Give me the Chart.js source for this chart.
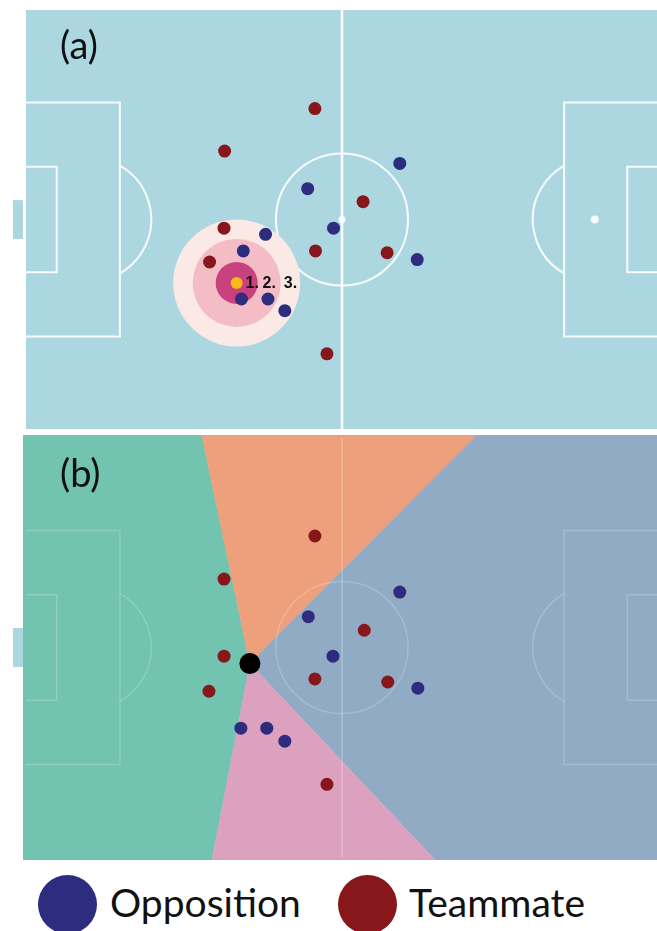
<!DOCTYPE html>
<html>
<head>
<meta charset="utf-8">
<script src="https://cdn.jsdelivr.net/npm/chart.js@4.4.1/dist/chart.umd.min.js"></script>
<style>
  html, body { margin: 0; padding: 0; background: #ffffff; }
  body { width: 657px; height: 931px; overflow: hidden; position: relative; }
  canvas { position: absolute; left: 0; }
  #chartA { top: 0px; }
  #chartB { top: 428px; }
  .txt { position: absolute; font-family: Lato, "Open Sans", sans-serif; color: #111; white-space: nowrap; }
  .panel { font-size: 38px; line-height: 38px; left: 60px; }
  .legtxt { font-size: 39px; line-height: 39px; top: 883px; }
  .legdot { position: absolute; width: 59px; height: 59px; border-radius: 50%; top: 874.5px; }
</style>
</head>
<body>
<canvas id="chartA" width="680" height="432"></canvas>
<canvas id="chartB" width="680" height="436"></canvas>
<div class="txt panel" id="labelA" style="top:25px"></div>
<div class="txt panel" id="labelB" style="top:453px"></div>
<div class="legdot" id="legDot0" style="left:38px"></div>
<div class="txt legtxt" id="legTxt0" style="left:110px"></div>
<div class="legdot" id="legDot1" style="left:338px"></div>
<div class="txt legtxt" id="legTxt1" style="left:409px"></div>

<script>
// ---------------- DATA (pitch coordinates in metres, x 0-105 from left goal line, y 0-68 from top touchline) ----------------
const panelLabels = ['(a)', '(b)'];
const seriesNames = ['Opposition', 'Teammate'];

// Panel (a)
const oppositionA = [[46.8, 29.0], [62.1, 24.9], [51.1, 35.4], [39.8, 36.4], [36.1, 39.1],
                     [35.8, 46.9], [40.2, 46.9], [43.0, 48.8], [65.0, 40.5]];
const teammatesA  = [[48.0, 16.0], [33.0, 22.9], [56.0, 31.1], [32.9, 35.4], [30.5, 40.9],
                     [48.1, 39.1], [60.0, 39.4], [50.0, 55.8]];
const ballA       = [[35.0, 44.3]];
const ringLabels  = ['1.', '2.', '3.'];

// Panel (b)
const oppositionB = [[46.9, 29.0], [62.1, 25.0], [51.0, 35.4], [65.1, 40.6],
                     [35.7, 47.1], [40.0, 47.1], [43.0, 49.2]];
const teammatesB  = [[48.0, 15.9], [32.9, 22.9], [56.2, 31.2], [32.9, 35.4], [30.4, 41.1],
                     [48.0, 39.1], [60.1, 39.6], [50.0, 56.2]];
const playerB     = [[37.2, 36.6]];
// x where region boundaries meet the top and bottom touchlines
const regionTopX    = [29.2, 74.9];
const regionBottomX = [30.9, 68.0];
const regionNames   = ['Left', 'Forward', 'Right', 'Back'];

// ---------------- STYLE / GEOMETRY ----------------
const COL_OPP = '#2e2c7e';
const COL_TEAM = '#87171b';
const COL_BALL = '#f5b918';
const RING_COLS = ['#c9427f', '#f4bdc6', '#fbe9e5'];
const RING_R = [21, 44, 63.5];
const REGION_COLS = ['#72c3b0', '#eda07b', '#91abc4', '#dba1bf'];
const PITCH_BG = '#acd7e0';

const SX = 632 / 105, SY = 419 / 68;   // px per metre
const CW = 680;
const P = { L: 105, W: 68, paD: 15.6, paHW: 19.0, gaD: 5.1, gaHW: 8.55, spot: 10.5,
            arcR: 10.3, ccR: 10.97, goalD: 1.66, goalX0: -0.5, goalHW: 3.15 };

const pts = arr => arr.map(([x, y]) => ({ x, y }));

document.getElementById('labelA').textContent = panelLabels[0];
document.getElementById('labelB').textContent = panelLabels[1];
document.getElementById('legTxt0').textContent = seriesNames[0];
document.getElementById('legTxt1').textContent = seriesNames[1];
document.getElementById('legDot0').style.background = COL_OPP;
document.getElementById('legDot1').style.background = COL_TEAM;

function drawGoal(chart, color) {
  const xs = chart.scales.x, ys = chart.scales.y, ctx = chart.ctx;
  const X = v => xs.getPixelForValue(v), Y = v => ys.getPixelForValue(v);
  const cy = P.W / 2;
  ctx.save();
  ctx.fillStyle = color;
  ctx.fillRect(X(P.goalX0 - P.goalD), Y(cy - P.goalHW), X(P.goalX0) - X(P.goalX0 - P.goalD), Y(cy + P.goalHW) - Y(cy - P.goalHW));
  ctx.restore();
}

function drawPitchLines(chart, stroke, lw, centreLw, spots) {
  const xs = chart.scales.x, ys = chart.scales.y, ctx = chart.ctx;
  const X = v => xs.getPixelForValue(v), Y = v => ys.getPixelForValue(v);
  const k = X(1) - X(0);
  const cy = P.W / 2;
  ctx.save();
  ctx.strokeStyle = stroke;
  ctx.fillStyle = stroke;
  ctx.lineWidth = centreLw;
  ctx.beginPath(); ctx.moveTo(X(P.L / 2), Y(0)); ctx.lineTo(X(P.L / 2), Y(P.W)); ctx.stroke();
  ctx.lineWidth = lw;
  ctx.beginPath(); ctx.arc(X(P.L / 2), Y(cy), P.ccR * k, 0, Math.PI * 2); ctx.stroke();
  if (spots) { ctx.beginPath(); ctx.arc(X(P.L / 2), Y(cy), 3.5, 0, Math.PI * 2); ctx.fill(); }
  const box = (x0, x1, hw) => {
    ctx.beginPath();
    ctx.moveTo(X(x0), Y(cy - hw)); ctx.lineTo(X(x1), Y(cy - hw));
    ctx.lineTo(X(x1), Y(cy + hw)); ctx.lineTo(X(x0), Y(cy + hw));
    ctx.stroke();
  };
  box(0, P.paD, P.paHW); box(0, P.gaD, P.gaHW);
  box(P.L, P.L - P.paD, P.paHW); box(P.L, P.L - P.gaD, P.gaHW);
  const r = P.arcR * k;
  const th = Math.acos((X(P.paD) - X(P.spot)) / r);
  ctx.beginPath(); ctx.arc(X(P.spot), Y(cy), r, -th, th); ctx.stroke();
  ctx.beginPath(); ctx.arc(X(P.L - P.spot), Y(cy), r, Math.PI - th, Math.PI + th); ctx.stroke();
  if (spots) { ctx.beginPath(); ctx.arc(X(P.L - P.spot), Y(cy), 4, 0, Math.PI * 2); ctx.fill(); }
  ctx.restore();
}

const pitchPluginA = {
  id: 'pitchA',
  beforeDatasetsDraw(chart) {
    const a = chart.chartArea, ctx = chart.ctx;
    ctx.save(); ctx.fillStyle = PITCH_BG; ctx.fillRect(a.left, a.top, a.right - a.left, a.bottom - a.top); ctx.restore();
    drawGoal(chart, PITCH_BG);
    drawPitchLines(chart, 'rgba(255,255,255,0.9)', 2, 2.6, true);
  },
  afterDatasetsDraw(chart) {
    const xs = chart.scales.x, ys = chart.scales.y, ctx = chart.ctx;
    const bx = xs.getPixelForValue(ballA[0][0]), by = ys.getPixelForValue(ballA[0][1]);
    const bands = [7, RING_R[0], RING_R[1], RING_R[2]];
    ctx.save();
    ctx.font = 'bold 16px "Liberation Sans Narrow", "Liberation Sans", Arial, sans-serif';
    ctx.fillStyle = '#111111';
    ctx.textAlign = 'center';
    ctx.textBaseline = 'middle';
    ringLabels.forEach((t, i) => {
      const off = (bands[i] + bands[i + 1]) / 2 + (i === 0 ? 1.5 : 0);
      ctx.fillText(t, bx + off, by + 0.5);
    });
    ctx.restore();
  }
};

const pitchPluginB = {
  id: 'pitchB',
  beforeDatasetsDraw(chart) { drawGoal(chart, PITCH_BG); },
  afterDatasetDraw(chart, args) {
    if (chart.data.datasets[args.index].pitchAfter) {
      drawPitchLines(chart, 'rgba(255,255,255,0.2)', 1.5, 2, false);
    }
  }
};

function baseOptions(xmin, xmax, ymin, ymax, pitchTopPx, canvasTop, canvasH) {
  const left = 26 + xmin * SX;
  const right = CW - (26 + xmax * SX);
  const top = (pitchTopPx + ymin * SY) - canvasTop;
  const bottom = canvasH - ((pitchTopPx + ymax * SY) - canvasTop);
  return {
    responsive: false, animation: false, devicePixelRatio: 1, events: [],
    layout: { autoPadding: false, padding: { left, right, top, bottom } },
    plugins: { legend: { display: false }, tooltip: { enabled: false } },
    scales: {
      x: { type: 'linear', min: xmin, max: xmax, display: false },
      y: { type: 'linear', min: ymin, max: ymax, reverse: true, display: false }
    }
  };
}

// ---------------- Chart (a) ----------------
new Chart(document.getElementById('chartA'), {
  type: 'scatter',
  data: {
    datasets: [
      { label: 'Ball', data: pts(ballA), backgroundColor: COL_BALL, borderWidth: 0, pointRadius: 6, order: 0 },
      { label: seriesNames[0], data: pts(oppositionA), backgroundColor: COL_OPP, borderWidth: 0, pointRadius: 6.5, order: 1 },
      { label: seriesNames[1], data: pts(teammatesA), backgroundColor: COL_TEAM, borderWidth: 0, pointRadius: 6.5, order: 1 },
      { label: 'Zone ' + ringLabels[0], data: pts(ballA), backgroundColor: RING_COLS[0], borderWidth: 0, pointRadius: RING_R[0], order: 5 },
      { label: 'Zone ' + ringLabels[1], data: pts(ballA), backgroundColor: RING_COLS[1], borderWidth: 0, pointRadius: RING_R[1], order: 6 },
      { label: 'Zone ' + ringLabels[2], data: pts(ballA), backgroundColor: RING_COLS[2], borderWidth: 0, pointRadius: RING_R[2], order: 7 }
    ]
  },
  options: baseOptions(0, P.L, 0, P.W, 10, 0, 432),
  plugins: [pitchPluginA]
});

// ---------------- Chart (b) ----------------
const e0 = -0.5, ex1 = P.L + 0.5, ey1 = P.W + 0.5;
const apex = playerB[0];
const regionPolys = [
  [[e0, e0], [regionTopX[0], e0], apex, [regionBottomX[0], ey1], [e0, ey1]],
  [[regionTopX[0], e0], [regionTopX[1], e0], apex],
  [[regionTopX[1], e0], [ex1, e0], [ex1, ey1], [regionBottomX[1], ey1], apex],
  [apex, [regionBottomX[1], ey1], [regionBottomX[0], ey1]]
];
const regionDatasets = regionPolys.map((poly, i) => ({
  label: regionNames[i],
  data: pts(poly.concat([poly[0]])),
  showLine: true, fill: 'shape', tension: 0,
  backgroundColor: REGION_COLS[i], borderColor: REGION_COLS[i], borderWidth: 0.5,
  pointRadius: 0, order: 13 - i, pitchAfter: i === 3
}));

new Chart(document.getElementById('chartB'), {
  type: 'scatter',
  data: {
    datasets: [
      { label: 'Player', data: pts(playerB), backgroundColor: '#000000', borderWidth: 0, pointRadius: 10.5, order: 0 },
      { label: seriesNames[0], data: pts(oppositionB), backgroundColor: COL_OPP, borderWidth: 0, pointRadius: 6.5, order: 1 },
      { label: seriesNames[1], data: pts(teammatesB), backgroundColor: COL_TEAM, borderWidth: 0, pointRadius: 6.5, order: 1 }
    ].concat(regionDatasets)
  },
  options: baseOptions(e0, ex1, e0, ey1, 438, 428, 436),
  plugins: [pitchPluginB]
});
</script>
</body>
</html>
